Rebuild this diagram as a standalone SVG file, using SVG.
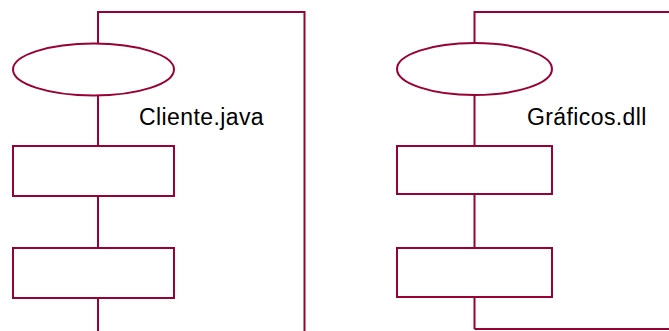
<svg xmlns="http://www.w3.org/2000/svg" width="669" height="331" viewBox="0 0 669 331">
<style>
.s{fill:none;stroke:#990033;stroke-width:2}
.n{fill:#fff;stroke:#990033;stroke-width:2}
.t{font-family:"Liberation Sans",Arial,sans-serif;font-size:23px;letter-spacing:0.4px;fill:#000}
</style>
<rect width="669" height="331" fill="#fff"/>
<g id="connectors">
<path class="s" d="M98 331V12H304.5V331"/>
<path class="s" d="M474.5 329V12H669"/>
<path class="s" d="M474.5 329H669"/>
</g>
<g id="cliente">
<ellipse class="n" cx="93.5" cy="69.5" rx="80.5" ry="26"/>
<rect class="n" x="13" y="146" width="161" height="50"/>
<rect class="n" x="13" y="248" width="161" height="50"/>
<text class="t" x="139" y="125">Cliente.java</text>
</g>
<g id="graficos">
<ellipse class="n" cx="474.5" cy="69" rx="77.5" ry="26"/>
<rect class="n" x="397" y="146" width="155" height="48"/>
<rect class="n" x="397" y="248" width="155" height="49"/>
<text class="t" x="527" y="125">Gráficos.dll</text>
</g>
</svg>
